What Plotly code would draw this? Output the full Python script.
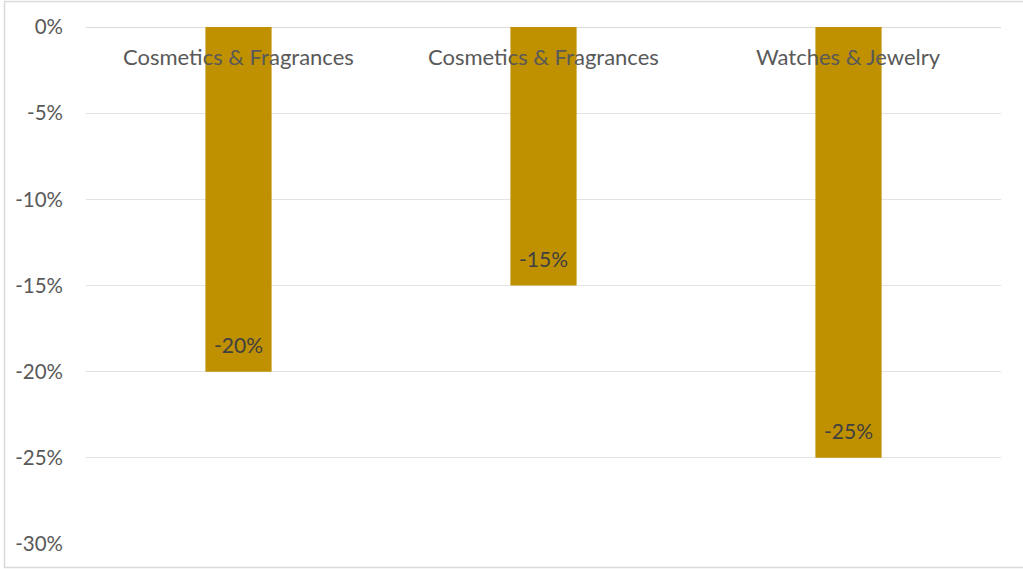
import plotly.graph_objects as go

categories = ["Cosmetics & Fragrances", "Cosmetics & Fragrances", "Watches & Jewelry"]
values = [-0.20, -0.15, -0.25]
tick_vals = [0, -0.05, -0.10, -0.15, -0.20, -0.25, -0.30]
tick_text = ["0%", "-5%", "-10%", "-15%", "-20%", "-25%", "-30%"]

FONT = "Lato"
W, H = 1023, 569
ML, MR, MT, MB = 86, 22, 27, 25
pw, ph = W - ML - MR, H - MT - MB

xs = list(range(len(categories)))
fig = go.Figure(go.Bar(x=xs, y=values, marker_color="#BF9000", width=0.217,
                       marker_line_width=0, hoverinfo="skip"))

annotations = []
for x, c in zip(xs, categories):
    annotations.append(dict(x=x, y=0, xref="x", yref="y", text=c, showarrow=False,
                            yshift=-29, font=dict(family=FONT, size=22, color="#595959")))
for x, v in zip(xs, values):
    annotations.append(dict(x=x, y=v, xref="x", yref="y", text=f"{round(v*100)}%", showarrow=False,
                            yshift=27, font=dict(family=FONT, size=21, color="#404040")))

fig.update_layout(
    width=W, height=H, margin=dict(l=ML, r=MR, t=MT, b=MB),
    paper_bgcolor="white", plot_bgcolor="white", showlegend=False,
    xaxis=dict(range=[-0.5, 2.5], showticklabels=False, showgrid=False, zeroline=False,
               showline=False, fixedrange=True),
    yaxis=dict(range=[-0.30, 0], tickvals=tick_vals, ticktext=tick_text, showgrid=True,
               gridcolor="#E3E3E3", gridwidth=1, zeroline=True, zerolinecolor="#D9D9D9",
               zerolinewidth=1, showline=False, ticklabelstandoff=22,
               tickfont=dict(family=FONT, size=20.5, color="#595959"), fixedrange=True),
    annotations=annotations,
    shapes=[dict(type="rect", xref="paper", yref="paper",
                 x0=(4.5 - ML) / pw, x1=(W + 5 - ML) / pw,
                 y0=(H - MB - 567.5) / ph, y1=(H - MB - 1.5) / ph,
                 line=dict(color="#D9D9D9", width=1.5), layer="below")],
)
fig.write_html("out.html", config={"displayModeBar": False})
